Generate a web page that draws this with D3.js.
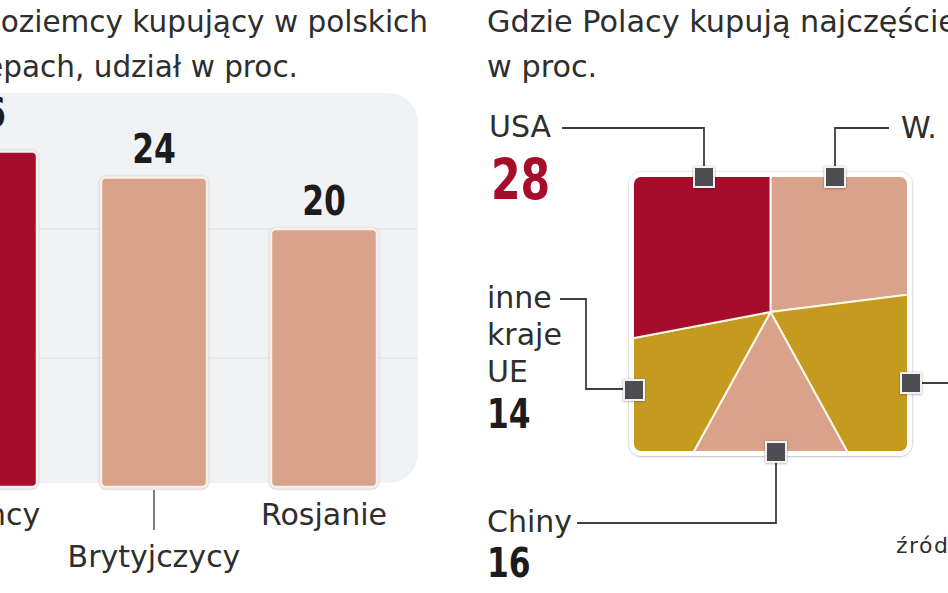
<!DOCTYPE html>
<html>
<head>
<meta charset="utf-8">
<script src="https://cdn.jsdelivr.net/npm/d3@7"></script>
<style>
  html, body { margin: 0; padding: 0; background: #ffffff; }
  svg { display: block; }
  .reg { font-family: "DejaVu Sans", sans-serif; fill: #2e2e2e; }
  .num { font-family: "DejaVu Sans Condensed", "DejaVu Sans", sans-serif; font-weight: bold; }
</style>
</head>
<body>
<svg id="chart" width="948" height="593"></svg>
<script>
// ---------- data ----------
const barCategories = ["Niemcy", "Brytyjczycy", "Rosjanie"];
const barValues = [26, 24, 20];
const barGridTicks = [10, 20];

const pieCountries = ["W. Brytania", "Niemcy", "Chiny", "inne kraje UE", "USA"];
const pieValues = [23, 19, 16, 14, 28];

const leftTitle = ["Cudzoziemcy kupujący w polskich", "sklepach, udział w proc."];
const rightTitle = ["Gdzie Polacy kupują najczęściej", "w proc."];
const sourceText = "źródło:";

// ---------- styles ----------
const RED = "#a50d2b", SALMON = "#d9a28b", YELLOW = "#c59b1f";
const barColors = [RED, SALMON, SALMON];
const pieColors = [SALMON, YELLOW, SALMON, YELLOW, RED];

const svg = d3.select("#chart");
const defs = svg.append("defs");
const sh = defs.append("filter").attr("id", "shadow").attr("x", "-20%").attr("y", "-20%").attr("width", "140%").attr("height", "140%");
sh.append("feDropShadow").attr("dx", 0).attr("dy", 0.5).attr("stdDeviation", 1.3).attr("flood-color", "#000").attr("flood-opacity", 0.35);

// condensed bold number helper
function num(g, x, y, txt, size, fill, anchor, sx) {
  return g.append("text").attr("class", "num")
    .attr("transform", `translate(${x},${y}) scale(${sx},1)`)
    .attr("text-anchor", anchor || "start")
    .style("font-size", size + "px").attr("fill", fill).text(txt);
}

// ---------- titles ----------
const lt = svg.append("g").attr("class", "reg").style("font-size", "29.5px");
lt.append("text").attr("x", 428).attr("y", 32).attr("text-anchor", "end").text(leftTitle[0]);
lt.append("text").attr("x", 298).attr("y", 77).attr("text-anchor", "end").text(leftTitle[1]);
const rt = svg.append("g").attr("class", "reg").style("font-size", "30.3px");
rt.append("text").attr("x", 487).attr("y", 32).text(rightTitle[0]);
rt.append("text").attr("x", 487).attr("y", 77).text(rightTitle[1]);

// ---------- bar chart ----------
const baseY = 487;
const y = d3.scaleLinear().domain([0, 30]).range([baseY, baseY - 30 * 12.9]);
const x = d3.scalePoint().domain(barCategories).range([-16, 324]);
const barW = 106;

svg.append("rect").attr("x", -40).attr("y", 93).attr("width", 458).attr("height", 390)
  .attr("rx", 30).attr("fill", "#f1f2f4");

svg.append("g").selectAll("line").data(barGridTicks).join("line")
  .attr("x1", 0).attr("x2", 418).attr("y1", d => y(d)).attr("y2", d => y(d))
  .attr("stroke", "#dfe0e3").attr("stroke-width", 1.2);

svg.append("g").selectAll("rect").data(barValues).join("rect")
  .attr("x", (d, i) => x(barCategories[i]) - barW / 2)
  .attr("y", d => y(d))
  .attr("width", barW)
  .attr("height", d => baseY - y(d))
  .attr("rx", 5)
  .attr("fill", (d, i) => barColors[i])
  .attr("stroke", "#fcefea").attr("stroke-width", 2.5)
  .attr("filter", "url(#shadow)");

const vg = svg.append("g");
barValues.forEach((d, i) => {
  num(vg, x(barCategories[i]), y(d) - (i === 0 ? 25 : 14), d, 41, "#1c1c1c", "middle", 0.85);
});

// category labels (middle one dropped lower with a leader)
const mid = 1;
svg.append("line").attr("x1", x(barCategories[mid])).attr("x2", x(barCategories[mid]))
  .attr("y1", baseY + 3).attr("y2", 530).attr("stroke", "#555").attr("stroke-width", 1.5);
svg.append("g").selectAll("text").data(barCategories).join("text")
  .attr("class", "reg").style("font-size", "30px")
  .attr("x", d => x(d)).attr("y", (d, i) => i === mid ? 567 : 525)
  .attr("text-anchor", "middle").text(d => d);

// ---------- square pie ----------
const sq = { x: 634, y: 177, w: 273, h: 274, r: 7 };
const cx = 770.5, cy = 312;

svg.append("rect").attr("x", sq.x - 2.5).attr("y", sq.y - 2.5).attr("width", sq.w + 5).attr("height", sq.h + 5)
  .attr("rx", sq.r + 3).attr("fill", "#fff").attr("stroke", "#fff").attr("stroke-width", 5)
  .attr("filter", "url(#shadow)");

defs.append("clipPath").attr("id", "sqclip").append("rect")
  .attr("x", sq.x).attr("y", sq.y).attr("width", sq.w).attr("height", sq.h).attr("rx", sq.r);

const pie = d3.pie().sort(null).value(d => d)(pieValues);
const arc = d3.arc().innerRadius(0).outerRadius(400);
svg.append("g").attr("clip-path", "url(#sqclip)")
  .append("g").attr("transform", `translate(${cx},${cy})`)
  .selectAll("path").data(pie).join("path")
  .attr("d", arc)
  .attr("fill", (d, i) => pieColors[i])
  .attr("stroke", "#fdf6ea").attr("stroke-width", 2).attr("stroke-linejoin", "round");

// callouts (layout only)
const callouts = [
  { key: "USA",           pts: [[562,128],[704,128],[704,167]], m: [704,177] },
  { key: "W. Brytania",   pts: [[835,167],[835,128],[889,128]], m: [835,177] },
  { key: "inne kraje UE", pts: [[560,299],[586,299],[586,389],[624,389]], m: [634,390] },
  { key: "Niemcy",        pts: [[921,383],[960,383]], m: [911,383] },
  { key: "Chiny",         pts: [[776,462],[776,523],[577,523]], m: [776,452] }
];
const lineGen = d3.line();
svg.append("g").selectAll("path").data(callouts).join("path")
  .attr("d", d => lineGen(d.pts)).attr("fill", "none")
  .attr("stroke", "#3d3f42").attr("stroke-width", 1.8);
svg.append("g").selectAll("rect").data(callouts).join("rect")
  .attr("x", d => d.m[0] - 10).attr("y", d => d.m[1] - 10)
  .attr("width", 20).attr("height", 20)
  .attr("fill", "#4b4e52").attr("stroke", "#f2f2f2").attr("stroke-width", 2)
  .attr("filter", "url(#shadow)");

const val = k => pieValues[pieCountries.indexOf(k)];
const lab = svg.append("g");
lab.append("text").attr("class", "reg").style("font-size", "30px").attr("x", 489).attr("y", 137).text("USA");
num(lab, 491, 200, val("USA"), 57, RED, "start", 0.83);
lab.append("text").attr("class", "reg").style("font-size", "30px").attr("x", 901).attr("y", 138).text("W. Brytania");
["inne", "kraje", "UE"].forEach((w, i) => {
  lab.append("text").attr("class", "reg").style("font-size", "30px").attr("x", 487).attr("y", 308 + i * 37).text(w);
});
num(lab, 487, 428, val("inne kraje UE"), 41, "#1c1c1c", "start", 0.85);
lab.append("text").attr("class", "reg").style("font-size", "30px").attr("x", 487).attr("y", 532).text("Chiny");
num(lab, 487, 577, val("Chiny"), 41, "#1c1c1c", "start", 0.85);

svg.append("text").attr("class", "reg").style("font-size", "22px").style("letter-spacing", "1.5px")
  .attr("fill", "#555").attr("x", 896).attr("y", 553).text(sourceText);
</script>
</body>
</html>
